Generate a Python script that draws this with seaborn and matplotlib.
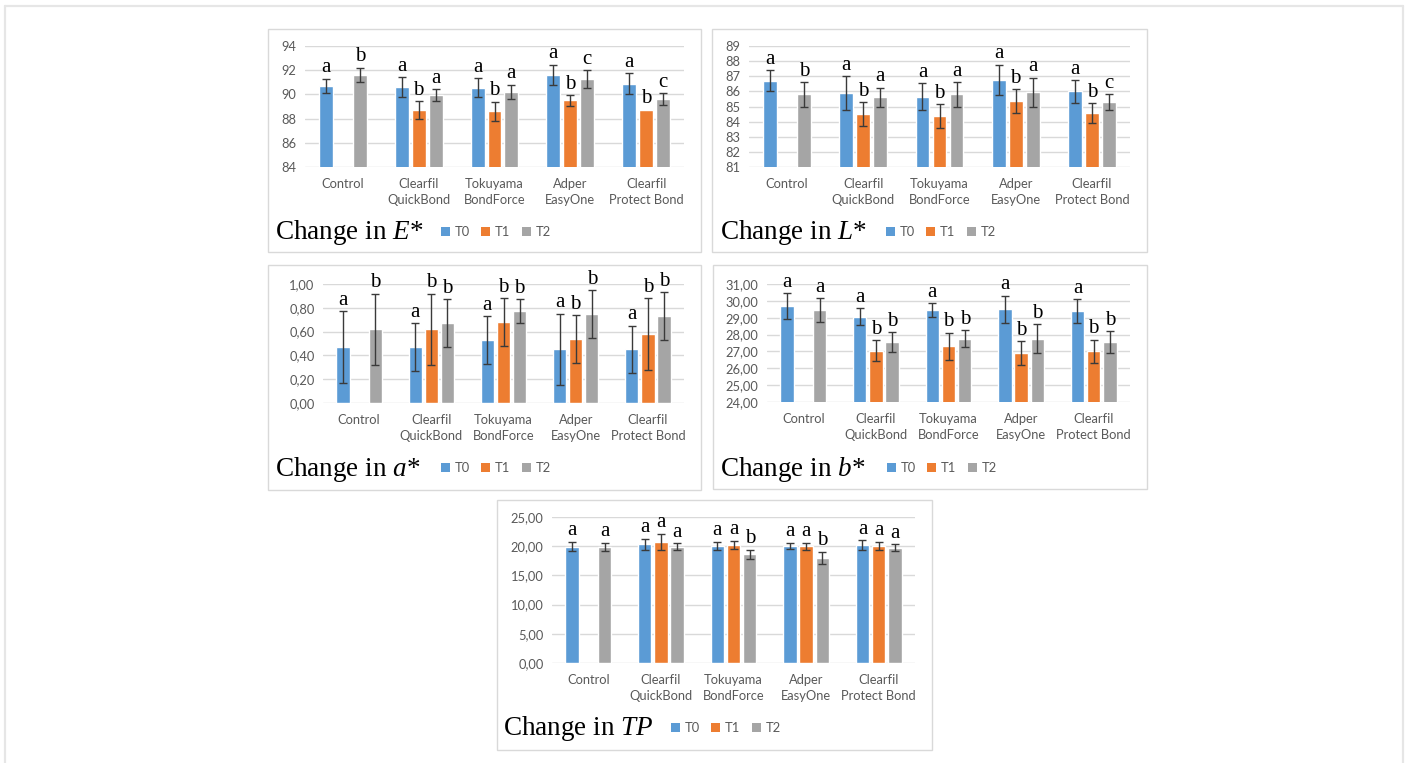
import numpy as np
import pandas as pd
import matplotlib
matplotlib.use("Agg")
import matplotlib.pyplot as plt
import seaborn as sns
from matplotlib.patches import Rectangle, Patch
from matplotlib.lines import Line2D
from matplotlib.container import BarContainer

# ---------------- data ----------------
categories = ["Control", "Clearfil\nQuickBond", "Tokuyama\nBondForce",
              "Adper\nEasyOne", "Clearfil\nProtect Bond"]
times = ["T0", "T1", "T2"]
colors = ["#5B9BD5", "#ED7D31", "#A5A5A5"]

# Change in E*
e_T0 = [90.7, 90.6, 90.55, 91.6, 90.9]
e_T1 = [np.nan, 88.7, 88.6, 89.5, 88.75]
e_T2 = [91.6, 89.95, 90.2, 91.25, 89.6]
e_err_T0 = [0.6, 0.8, 0.8, 0.85, 0.85]
e_err_T1 = [np.nan, 0.75, 0.8, 0.45, 0.0]
e_err_T2 = [0.6, 0.5, 0.6, 0.75, 0.5]
e_let_T0 = ["a", "a", "a", "a", "a"]
e_let_T1 = ["", "b", "b", "b", "b"]
e_let_T2 = ["b", "a", "a", "c", "c"]

# Change in L*
l_T0 = [86.7, 85.9, 85.65, 86.75, 86.0]
l_T1 = [np.nan, 84.5, 84.35, 85.35, 84.55]
l_T2 = [85.8, 85.6, 85.8, 85.95, 85.3]
l_err_T0 = [0.7, 1.1, 0.9, 1.0, 0.75]
l_err_T1 = [np.nan, 0.8, 0.8, 0.8, 0.65]
l_err_T2 = [0.8, 0.65, 0.8, 0.95, 0.5]
l_let_T0 = ["a", "a", "a", "a", "a"]
l_let_T1 = ["", "b", "b", "b", "b"]
l_let_T2 = ["b", "a", "a", "a", "c"]

# Change in a*
a_T0 = [0.47, 0.47, 0.53, 0.45, 0.45]
a_T1 = [np.nan, 0.62, 0.68, 0.54, 0.58]
a_T2 = [0.62, 0.67, 0.77, 0.75, 0.73]
a_err_T0 = [0.3, 0.2, 0.2, 0.3, 0.2]
a_err_T1 = [np.nan, 0.3, 0.2, 0.2, 0.3]
a_err_T2 = [0.3, 0.2, 0.1, 0.2, 0.2]
a_let_T0 = ["a", "a", "a", "a", "a"]
a_let_T1 = ["", "b", "b", "b", "b"]
a_let_T2 = ["b", "b", "b", "b", "b"]

# Change in b*
b_T0 = [29.7, 29.05, 29.45, 29.5, 29.4]
b_T1 = [np.nan, 27.05, 27.3, 26.9, 27.0]
b_T2 = [29.45, 27.55, 27.75, 27.75, 27.55]
b_err_T0 = [0.75, 0.5, 0.4, 0.8, 0.7]
b_err_T1 = [np.nan, 0.6, 0.8, 0.7, 0.7]
b_err_T2 = [0.7, 0.6, 0.5, 0.85, 0.65]
b_let_T0 = ["a", "a", "a", "a", "a"]
b_let_T1 = ["", "b", "b", "b", "b"]
b_let_T2 = ["a", "b", "b", "b", "b"]

# Change in TP
tp_T0 = [19.9, 20.3, 20.0, 20.1, 20.2]
tp_T1 = [np.nan, 20.7, 20.15, 20.0, 20.1]
tp_T2 = [19.9, 19.9, 18.6, 18.0, 19.7]
tp_err_T0 = [0.8, 1.0, 0.7, 0.5, 0.8]
tp_err_T1 = [np.nan, 1.4, 0.7, 0.6, 0.7]
tp_err_T2 = [0.7, 0.6, 0.8, 1.0, 0.6]
tp_let_T0 = ["a", "a", "a", "a", "a"]
tp_let_T1 = ["", "a", "a", "a", "a"]
tp_let_T2 = ["a", "a", "b", "b", "a"]

e_ticks = [84, 86, 88, 90, 92, 94]
l_ticks = [81, 82, 83, 84, 85, 86, 87, 88, 89]
a_ticks = [0.0, 0.2, 0.4, 0.6, 0.8, 1.0]
b_ticks = [24, 25, 26, 27, 28, 29, 30, 31]
tp_ticks = [0, 5, 10, 15, 20, 25]

# ---------------- style ----------------
sns.set_theme(style="white")
plt.rcParams["font.family"] = ["Lato", "DejaVu Sans"]
plt.rcParams["mathtext.fontset"] = "custom"
plt.rcParams["mathtext.rm"] = "Liberation Serif"
plt.rcParams["mathtext.it"] = "Liberation Serif:italic"

W, H = 1407, 763
fig = plt.figure(figsize=(W / 100, H / 100), dpi=100)
fig.patch.set_facecolor("white")

def fx(x):
    return x / W

def fy(y):
    return 1 - y / H

GRAY_TXT = "#595959"
GRID = "#D9D9D9"
TICK_FS = 9.3

def draw_panel(axrect, boxrect, vals, errs, lets, ticks, decimals, title,
               title_xy, legend_xy):
    # panel border
    bx0, by0, bx1, by1 = boxrect
    fig.add_artist(Rectangle((fx(bx0), fy(by1)), (bx1 - bx0) / W, (by1 - by0) / H,
                             transform=fig.transFigure, fill=False,
                             edgecolor="#D9D9D9", lw=1.0))
    x0, y0, x1, y1 = axrect
    ax = fig.add_axes([fx(x0), fy(y1), (x1 - x0) / W, (y1 - y0) / H])
    ax.set_facecolor("none")

    rows = []
    for t, series in zip(times, vals):
        for c, v in zip(categories, series):
            if not np.isnan(v):
                rows.append({"category": c, "time": t, "value": v})
    df = pd.DataFrame(rows)
    sns.barplot(data=df, x="category", y="value", hue="time", order=categories,
                hue_order=times, palette=colors, saturation=1, width=0.67,
                gap=0.18, errorbar=None, legend=False, ax=ax)

    lo, hi = ticks[0], ticks[-1]
    rng = hi - lo
    bar_conts = [c for c in ax.containers if isinstance(c, BarContainer)]
    for hi_idx, cont in enumerate(bar_conts):
        for patch in cont.patches:
            h = patch.get_height()
            if h is None or np.isnan(h):
                continue
            xc = patch.get_x() + patch.get_width() / 2
            ci = int(round(xc))
            e = errs[hi_idx][ci]
            if not np.isnan(e) and e > 0:
                ax.errorbar(xc, h, yerr=e, fmt="none", ecolor="#3a3a3a",
                            elinewidth=1.0, capsize=3, capthick=1.0, zorder=4)
            top = h + (0 if np.isnan(e) else e)
            lab = lets[hi_idx][ci]
            if lab:
                ax.text(xc, top + 0.012 * rng, lab, ha="center", va="bottom",
                        fontsize=15, family="Liberation Serif", color="black",
                        zorder=5)

    ax.set_ylim(lo, hi)
    ax.set_xlim(-0.5, len(categories) - 0.5)
    ax.set_yticks(ticks)
    if decimals:
        ax.set_yticklabels([f"{t:.2f}".replace(".", ",") for t in ticks])
    else:
        ax.set_yticklabels([f"{t:d}" for t in ticks])
    ax.yaxis.grid(True, color=GRID, lw=1.0)
    ax.set_axisbelow(True)
    for s in ax.spines.values():
        s.set_visible(False)
    ax.tick_params(axis="both", length=0, colors=GRAY_TXT, labelsize=TICK_FS)
    ax.tick_params(axis="x", pad=8)
    ax.tick_params(axis="y", pad=6)
    for lbl in ax.get_xticklabels():
        lbl.set_linespacing(1.4)
    ax.set_xlabel("")
    ax.set_ylabel("")

    fig.text(fx(title_xy[0]), fy(title_xy[1]), title, ha="left", va="baseline",
             fontsize=19.5, family="Liberation Serif", color="black")
    handles = [Patch(facecolor=c, edgecolor="none") for c in colors]
    fig.legend(handles, times, loc="center left",
               bbox_to_anchor=(fx(legend_xy[0]), fy(legend_xy[1])),
               ncol=3, frameon=False, handlelength=0.7, handleheight=0.7,
               handletextpad=0.35, columnspacing=0.9, fontsize=TICK_FS,
               labelcolor=GRAY_TXT, borderaxespad=0, borderpad=0)
    return ax

draw_panel((305, 46, 684, 167), (268, 29, 701, 252),
           [e_T0, e_T1, e_T2], [e_err_T0, e_err_T1, e_err_T2],
           [e_let_T0, e_let_T1, e_let_T2], e_ticks, False,
           r"Change in $E$*", (275, 239), (441, 231.7))
draw_panel((749, 46, 1130, 167), (712, 29, 1147, 252),
           [l_T0, l_T1, l_T2], [l_err_T0, l_err_T1, l_err_T2],
           [l_let_T0, l_let_T1, l_let_T2], l_ticks, False,
           r"Change in $L$*", (720, 239), (886, 231.7))
draw_panel((323, 284, 684, 403), (268, 265, 701, 490),
           [a_T0, a_T1, a_T2], [a_err_T0, a_err_T1, a_err_T2],
           [a_let_T0, a_let_T1, a_let_T2], a_ticks, True,
           r"Change in $a$*", (275, 476), (441, 467.7))
draw_panel((767, 284, 1130, 402), (713, 265, 1147, 489),
           [b_T0, b_T1, b_T2], [b_err_T0, b_err_T1, b_err_T2],
           [b_let_T0, b_let_T1, b_let_T2], b_ticks, True,
           r"Change in $b$*", (720, 476), (887, 467.7))
draw_panel((552, 517, 915, 663), (497, 500, 932, 750),
           [tp_T0, tp_T1, tp_T2], [tp_err_T0, tp_err_T1, tp_err_T2],
           [tp_let_T0, tp_let_T1, tp_let_T2], tp_ticks, True,
           r"Change in $TP$", (503, 735), (671, 727.7))

# outer light frame
for xs, ys in [((5, 5), (6, 763)), ((5, 1403), (6, 6)), ((1403, 1403), (6, 763))]:
    fig.add_artist(Line2D([fx(xs[0]), fx(xs[1])], [fy(ys[0]), fy(ys[1])],
                          transform=fig.transFigure, color="#E6E6E6", lw=1.6))

fig.savefig("out.png", dpi=100, facecolor="white")
